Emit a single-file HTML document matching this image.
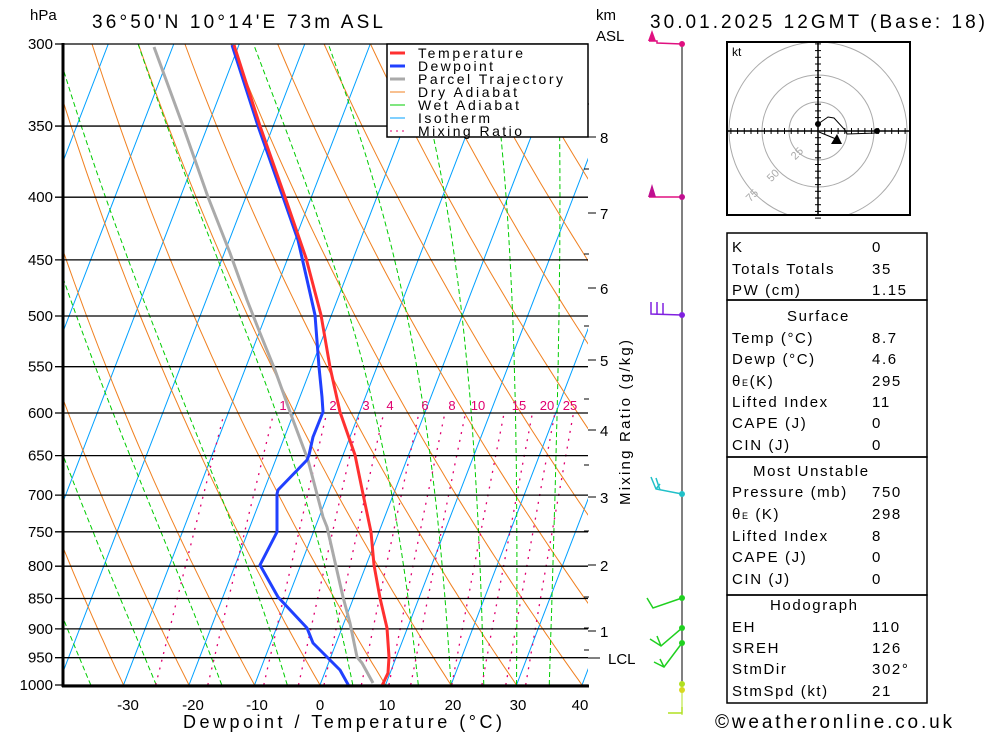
<!DOCTYPE html>
<html><head><meta charset="utf-8"><style>
html,body{margin:0;padding:0;background:#fff;}
svg{display:block;font-family:"Liberation Sans","DejaVu Sans",sans-serif;}
</style></head><body>
<svg id="s" width="1000" height="733" viewBox="0 0 1000 733" xmlns="http://www.w3.org/2000/svg">
<defs><clipPath id="pc"><rect x="63" y="44" width="525" height="641"/></clipPath></defs>
<rect width="1000" height="733" fill="#fff"/>
<g id="bg" clip-path="url(#pc)"></g>
<g id="grid"></g>
<g id="prof" clip-path="url(#pc)" fill="none" stroke-linejoin="round">
<polyline stroke="#aaaaaa" stroke-width="3" points="154,47 183,126 208,197 230,253 247,300 260,333 275,370 293,420 308,460 323,517 327,527 343,597 350,623 357,657 362,663 373,683"/>
<polyline stroke="#2040ff" stroke-width="3" points="232,45 258,126 283,197 298,240 315,315 319,367 322,397 323,412 313,437 309,455 307,460 278,490 277,494 277,532 260,565 278,597 307,628 313,643 327,657 340,670 350,688"/>
<polyline stroke="#ff3030" stroke-width="3" points="234,45 260,126 285,197 306,258 321,315 330,367 340,412 355,455 363,494 371,532 374,565 380,598 387,628 389,657 388,673 380,690"/>
</g>
<!-- legend -->
<g>
<rect x="387" y="44" width="201" height="93" fill="#fff" stroke="#000" stroke-width="1.5"/>
<g stroke-width="3"><line x1="390" y1="53" x2="405" y2="53" stroke="#ff3030"/><line x1="390" y1="66" x2="405" y2="66" stroke="#2040ff"/><line x1="390" y1="79" x2="405" y2="79" stroke="#aaaaaa"/></g>
<line x1="390" y1="92" x2="405" y2="92" stroke="#f08020"/>
<line x1="390" y1="105" x2="405" y2="105" stroke="#00cc00"/>
<line x1="390" y1="118" x2="405" y2="118" stroke="#00a0ff"/>
<line x1="390" y1="131" x2="405" y2="131" stroke="#e0006f" stroke-dasharray="2,4"/>
<g font-size="14" fill="#000" lengthAdjust="spacing">
<text x="418" y="58" textLength="105">Temperature</text><text x="418" y="71" textLength="75">Dewpoint</text><text x="418" y="84" textLength="145">Parcel Trajectory</text><text x="418" y="97" textLength="99">Dry Adiabat</text><text x="418" y="110" textLength="101">Wet Adiabat</text><text x="418" y="123" textLength="72">Isotherm</text><text x="418" y="136" textLength="104">Mixing Ratio</text>
</g></g>
<!-- frame -->
<line x1="63" y1="43" x2="63" y2="687" stroke="#000" stroke-width="3"/>
<line x1="62" y1="686" x2="589" y2="686" stroke="#000" stroke-width="3"/>
<g font-size="15" fill="#000">
<text x="30" y="20">hPa</text>
<text x="92" y="28" font-size="19" textLength="291" lengthAdjust="spacing">36°50'N 10°14'E 73m ASL</text>
<text x="596" y="20">km</text><text x="596" y="41">ASL</text>
<text x="650" y="28" font-size="19" textLength="335" lengthAdjust="spacing">30.01.2025 12GMT (Base: 18)</text>
</g>
<g id="txt" font-size="15" fill="#000"></g>
<g font-size="15" fill="#000" text-anchor="middle">
<text x="128" y="710">-30</text><text x="193" y="710">-20</text><text x="257" y="710">-10</text><text x="320" y="710">0</text><text x="387" y="710">10</text><text x="453" y="710">20</text><text x="518" y="710">30</text><text x="580" y="710">40</text>
</g>
<text x="183" y="728" font-size="18" textLength="319" lengthAdjust="spacing">Dewpoint / Temperature (°C)</text>
<text transform="translate(630,505) rotate(-90)" font-size="15" textLength="165" lengthAdjust="spacing">Mixing Ratio (g/kg)</text>
<g font-size="13" fill="#e0006f" text-anchor="middle">
<text x="283" y="410">1</text><text x="333" y="410">2</text><text x="366" y="410">3</text><text x="390" y="410">4</text><text x="425" y="410">6</text><text x="452" y="410">8</text><text x="478" y="410">10</text><text x="519" y="410">15</text><text x="547" y="410">20</text><text x="570" y="410">25</text>
</g>
<!-- wind column -->
<g>
<line x1="682" y1="44" x2="682" y2="685" stroke="#000" stroke-width="1"/>
<line x1="682" y1="685" x2="682" y2="715" stroke="#b0e020" stroke-width="1"/>
<g stroke="#e01080" fill="none" stroke-width="1.5"><polyline points="682,44 657,43 657,41 649,41"/><polyline points="682,197 649,197"/></g>
<polygon points="648,41 652,30 656,41" fill="#e01080"/><polygon points="648,197 652,184 656,197" fill="#c01090"/>
<circle cx="682" cy="44" r="3" fill="#e01080"/><circle cx="682" cy="197" r="3" fill="#c01090"/>
<g stroke="#8020e0" fill="none" stroke-width="1.5"><polyline points="682,315 651,314 651,302"/><line x1="657" y1="314" x2="657" y2="302"/><line x1="663" y1="314" x2="663" y2="303"/></g>
<circle cx="682" cy="315" r="3" fill="#8020e0"/>
<g stroke="#20c0c8" fill="none" stroke-width="1.5"><polyline points="682,494 656,489 651,477"/><line x1="660" y1="490" x2="656" y2="478"/><line x1="656" y1="489" x2="660" y2="484"/></g>
<circle cx="682" cy="494" r="3" fill="#20c0c8"/>
<g stroke="#20d020" fill="none" stroke-width="1.5"><polyline points="682,598 653,608 647,598"/><polyline points="682,628 661,646 650,639"/><line x1="661" y1="646" x2="657" y2="636"/><polyline points="682,643 664,667 654,662"/><line x1="664" y1="667" x2="660" y2="659"/></g>
<circle cx="682" cy="598" r="3" fill="#20d020"/><circle cx="682" cy="628" r="3" fill="#20d020"/><circle cx="682" cy="643" r="3" fill="#20d020"/>
<circle cx="682" cy="684" r="3" fill="#b0e020"/><circle cx="682" cy="690" r="3" fill="#d8d820"/>
<polyline points="668,713 682,713 682,707" stroke="#b0e020" fill="none" stroke-width="1.5"/>
</g>
<!-- hodograph -->
<g>
<rect x="727" y="42" width="183" height="173" fill="#fff" stroke="#000" stroke-width="2"/>
<svg x="728" y="43" width="181" height="171" overflow="hidden"><g transform="translate(-728,-43)" fill="none" stroke="#aaa">
<circle cx="818" cy="131" r="29"/><circle cx="818" cy="131" r="56"/><circle cx="818" cy="131" r="89"/></g></svg>
<g stroke="#000" stroke-width="1.5"><line x1="818" y1="42" x2="818" y2="215"/><line x1="727" y1="131" x2="910" y2="131"/></g>
<g id="hticks" stroke="#000" stroke-width="1"></g>
<g font-size="11" fill="#aaa"><text x="791" y="158" transform="rotate(-45 796 154)">25</text><text x="767" y="180" transform="rotate(-45 772 176)">50</text><text x="746" y="200" transform="rotate(-45 751 196)">75</text></g>
<text x="732" y="56" font-size="12">kt</text>
<polyline points="818,124 828,117 834,118 845,130 847,134 877,133" fill="none" stroke="#000" stroke-width="1"/>
<polyline points="819,132 836,139" fill="none" stroke="#000" stroke-width="1"/>
<circle cx="818" cy="124" r="3" fill="#000"/><circle cx="877" cy="131" r="3" fill="#000"/>
<polygon points="831,144 837,134 842,144" fill="#000"/>
</g>
<!-- table -->
<g fill="none" stroke="#000" stroke-width="1.5">
<rect x="727" y="233" width="200" height="67"/><rect x="727" y="300" width="200" height="157"/><rect x="727" y="457" width="200" height="138"/><rect x="727" y="595" width="200" height="108"/>
</g>
<g font-size="15" fill="#000" letter-spacing="1.6">
<text x="732" y="252">K</text><text x="872" y="252">0</text>
<text x="732" y="274">Totals Totals</text><text x="872" y="274">35</text>
<text x="732" y="295">PW (cm)</text><text x="872" y="295">1.15</text>
<text x="787" y="321">Surface</text>
<text x="732" y="343">Temp (°C)</text><text x="872" y="343">8.7</text>
<text x="732" y="364">Dewp (°C)</text><text x="872" y="364">4.6</text>
<text x="732" y="386">θ<tspan font-size="9">E</tspan>(K)</text><text x="872" y="386">295</text>
<text x="732" y="407">Lifted Index</text><text x="872" y="407">11</text>
<text x="732" y="428">CAPE (J)</text><text x="872" y="428">0</text>
<text x="732" y="450">CIN (J)</text><text x="872" y="450">0</text>
<text x="753" y="476">Most Unstable</text>
<text x="732" y="497">Pressure (mb)</text><text x="872" y="497">750</text>
<text x="732" y="519">θ<tspan font-size="9">E</tspan> (K)</text><text x="872" y="519">298</text>
<text x="732" y="541">Lifted Index</text><text x="872" y="541">8</text>
<text x="732" y="562">CAPE (J)</text><text x="872" y="562">0</text>
<text x="732" y="584">CIN (J)</text><text x="872" y="584">0</text>
<text x="770" y="610">Hodograph</text>
<text x="732" y="632">EH</text><text x="872" y="632">110</text>
<text x="732" y="653">SREH</text><text x="872" y="653">126</text>
<text x="732" y="674">StmDir</text><text x="872" y="674">302°</text>
<text x="732" y="696">StmSpd (kt)</text><text x="872" y="696">21</text>
</g>
<text x="715" y="728" font-size="19" textLength="237" lengthAdjust="spacing">©weatheronline.co.uk</text>
<script>
(function(){
var NS="http://www.w3.org/2000/svg";
function Y(p){return 44+641*Math.log(p/300)/Math.log(1000/300);}
function X(T,p){return 320+6.55*T+0.385*(685-Y(p));}
function el(par,tag,a){var e=document.createElementNS(NS,tag);for(var k in a)e.setAttribute(k,a[k]);document.getElementById(par).appendChild(e);return e;}
for(var T=-120;T<=50;T+=10){el("bg","line",{x1:X(T,1000),y1:685,x2:X(T,300),y2:44,stroke:"#00a0ff","stroke-width":1});}
for(var th=-80;th<=150;th+=10){var pts=[];for(var p=1000;p>=300;p-=10){var t=(th+273.15)*Math.pow(p/1000,0.286)-273.15;pts.push(X(t,p).toFixed(1)+","+Y(p).toFixed(1));}
el("bg","polyline",{points:pts.join(" "),fill:"none",stroke:"#f08020","stroke-width":1});}
function es(tc){return 6.112*Math.exp(17.67*tc/(tc+243.5));}
var tws=[-45,-35,-25,-15,-5,5,15,20,25,30,35];
tws.forEach(function(tw){var Tk=tw+273.15,pts=[];for(var p=1000;p>=300;p-=2){if(p%10==0)pts.push(X(Tk-273.15,p).toFixed(1)+","+Y(p).toFixed(1));
var e=es(Tk-273.15),rs=0.622*e/(p-e);var d=(287*Tk+2.5e6*rs)/(p*(1005+2.5e6*2.5e6*rs*0.622/(287*Tk*Tk)));Tk-=d*2;}
el("bg","polyline",{points:pts.join(" "),fill:"none",stroke:"#00cc00","stroke-width":1,"stroke-dasharray":"5,3"});});
[0.5,1,2,3,4,6,8,10,15,20,25,30].forEach(function(w){var pts=[];for(var p=1000;p>=600;p-=20){var e=w/1000*p/(0.622+w/1000);var l=Math.log(e/6.112);var td=243.5*l/(17.67-l);pts.push(X(td,p).toFixed(1)+","+Y(p).toFixed(1));}
el("bg","polyline",{points:pts.join(" "),fill:"none",stroke:"#e0006f","stroke-width":1.3,"stroke-dasharray":"2,6"});});
for(var p=300;p<=1000;p+=50){var y=Y(p);el("grid","line",{x1:55,y1:y,x2:588,y2:y,stroke:"#000","stroke-width":1.3});
var t=el("txt","text",{x:53,y:y+5,"text-anchor":"end"});t.textContent=p;}
var km=[[8,137],[7,213],[6,288],[5,360],[4,430],[3,497],[2,565],[1,631]];
km.forEach(function(k){el("grid","line",{x1:588,y1:k[1],x2:596,y2:k[1],stroke:"#000","stroke-width":1});var t=el("txt","text",{x:600,y:k[1]+6});t.textContent=k[0];});
el("grid","line",{x1:588,y1:658,x2:600,y2:658,stroke:"#000","stroke-width":1});var l=el("txt","text",{x:608,y:664});l.textContent="LCL";
[104,169,254,326,399,465,531,597,628,650].forEach(function(y){el("grid","line",{x1:584,y1:y,x2:589,y2:y,stroke:"#000","stroke-width":1});});
for(var i=-13;i<=13;i++){if(i==0)continue;var d=i*6.7;el("hticks","line",{x1:818+d,y1:128,x2:818+d,y2:134});el("hticks","line",{x1:815,y1:131+d,x2:821,y2:131+d});}
})();
</script>
</svg>
</body></html>
